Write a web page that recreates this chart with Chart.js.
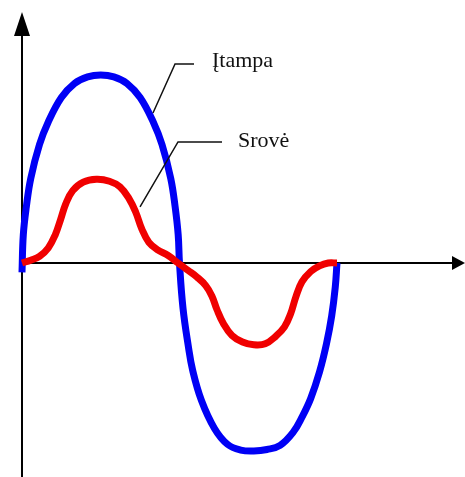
<!DOCTYPE html>
<html>
<head>
<meta charset="utf-8">
<script src="https://cdn.jsdelivr.net/npm/chart.js@4.4.1/dist/chart.umd.min.js"></script>
<style>
  html, body { margin: 0; padding: 0; background: #fff; }
  #wrap { width: 465px; height: 477px; }
</style>
</head>
<body>
<div id="wrap"><canvas id="myChart" width="465" height="477"></canvas></div>
<script>
// kampas (laipsniais) ir reiksme (% nuo itampos amplitudes)
const voltageDeg = [0, 1.5, 5, 10, 20, 30, 45, 60, 75, 90, 105, 120, 135, 150, 160, 170, 175, 178.5, 180,
  184, 190, 195, 205, 220, 235, 250, 265, 280, 295, 310, 320, 330, 340, 348, 354, 358, 360];
const voltageVal = [-5, 15, 30, 45, 63, 75, 88, 95.5, 99, 100, 99, 95.5, 88, 75, 63, 45, 30, 15, 0,
  -24, -44, -57, -73, -88, -96.5, -99.5, -100, -99.2, -97, -90, -82, -72, -58, -43, -28, -13, 0];

const currentDeg = [0, 10, 20, 30, 38, 44, 50, 58, 70, 85, 100, 112, 122, 130, 137, 145, 155, 167, 178.3,
  190, 200, 210, 217, 223, 230, 240, 252, 265, 278, 290, 300, 307, 313, 320, 330, 340, 350, 360];
const currentVal = [0, 1.5, 3.5, 8, 15, 23, 31.5, 38.5, 43, 44.5, 43.5, 40.5, 34.5, 27, 18, 11, 7, 4, 0,
  -4, -7.5, -12, -17.5, -25, -32, -38.5, -42, -43.5, -43, -39, -34, -27, -18, -10, -4.5, -1.5, 0, 0];

// uzrasai su rodyklemis: [nuo taško, lūžis, pabaiga, teksto vieta]
const labelNames = ["Įtampa", "Srovė"];
const leaderFrom = [[149.7, 79.8], [134.9, 29.8]];
const leaderBend = [[174.9, 105.9], [178.3, 64.4]];
const leaderEndDeg = [196.6, 228.6];
const labelPos = [[217.1, 104.3], [246.9, 61.7]];

const toPoints = (xs, ys) => xs.map((x, i) => ({ x: x, y: ys[i] }));

// asys su rodyklemis (piesiamos po kreivemis)
const axesPlugin = {
  id: "axesPlugin",
  beforeDatasetsDraw(chart) {
    const { ctx, scales: { x, y }, width, height } = chart;
    const ox = x.getPixelForValue(0);
    const oy = y.getPixelForValue(0);
    ctx.save();
    ctx.strokeStyle = "#000";
    ctx.fillStyle = "#000";
    ctx.lineWidth = 2;
    ctx.beginPath();
    ctx.moveTo(ox, height);
    ctx.lineTo(ox, 24);
    ctx.moveTo(ox, oy);
    ctx.lineTo(width - 8, oy);
    ctx.stroke();
    // rodykle virsuje
    ctx.beginPath();
    ctx.moveTo(ox, 12);
    ctx.lineTo(ox - 8, 36);
    ctx.lineTo(ox + 8, 36);
    ctx.closePath();
    ctx.fill();
    // rodykle desineje
    ctx.beginPath();
    ctx.moveTo(width, oy);
    ctx.lineTo(width - 13, oy - 7);
    ctx.lineTo(width - 13, oy + 7);
    ctx.closePath();
    ctx.fill();
    ctx.restore();
  }
};

const labelsPlugin = {
  id: "labelsPlugin",
  afterDatasetsDraw(chart) {
    const { ctx, scales: { x, y } } = chart;
    ctx.save();
    ctx.strokeStyle = "#111";
    ctx.lineWidth = 1.5;
    ctx.fillStyle = "#111";
    ctx.font = "22px 'Liberation Serif', 'Times New Roman', serif";
    ctx.textBaseline = "alphabetic";
    labelNames.forEach((name, i) => {
      const by = y.getPixelForValue(leaderBend[i][1]);
      ctx.beginPath();
      ctx.moveTo(x.getPixelForValue(leaderFrom[i][0]), y.getPixelForValue(leaderFrom[i][1]));
      ctx.lineTo(x.getPixelForValue(leaderBend[i][0]), by);
      ctx.lineTo(x.getPixelForValue(leaderEndDeg[i]), by);
      ctx.stroke();
      ctx.fillText(name, x.getPixelForValue(labelPos[i][0]), y.getPixelForValue(labelPos[i][1]));
    });
    ctx.restore();
  }
};

const ctx = document.querySelector("#myChart").getContext("2d");
const myChart = new Chart(ctx, {
  type: "line",
  data: {
    datasets: [
      {
        label: "Įtampa",
        data: toPoints(voltageDeg, voltageVal),
        borderColor: "#0000f5",
        borderWidth: 7,
        pointRadius: 0,
        tension: 0.4,
        fill: false,
        order: 2,
      },
      {
        label: "Srovė",
        data: toPoints(currentDeg, currentVal),
        borderColor: "#f00000",
        borderWidth: 7,
        pointRadius: 0,
        tension: 0.4,
        fill: false,
        order: 1,
      },
    ],
  },
  options: {
    responsive: false,
    animation: false,
    devicePixelRatio: 1,
    layout: { padding: 0 },
    plugins: { legend: { display: false }, tooltip: { enabled: false } },
    scales: {
      x: { type: "linear", display: false, min: -25.14, max: 506.3 },
      y: { type: "linear", display: false, min: -113.83, max: 139.9 },
    },
  },
  plugins: [axesPlugin, labelsPlugin],
});
</script>
</body>
</html>
